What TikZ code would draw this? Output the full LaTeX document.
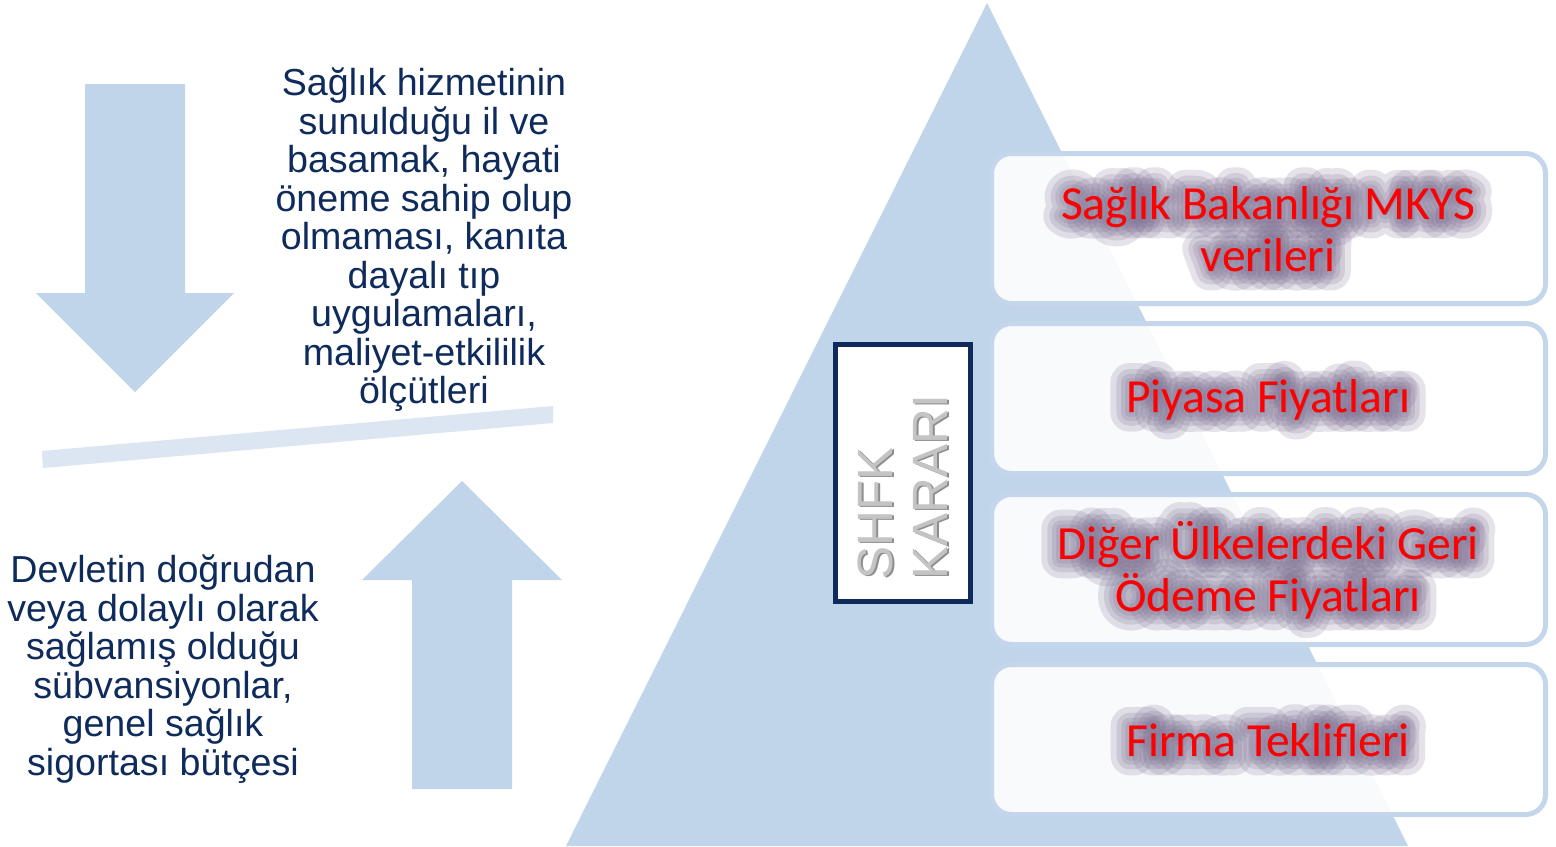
\documentclass[tikz,border=0pt]{standalone}
\usepackage{fontspec}
\setmainfont{Liberation Sans}
\newfontfamily\calfont{Carlito}
\newfontfamily\glowA[FakeBold=80]{Carlito}
\newfontfamily\glowB[FakeBold=55]{Carlito}
\newfontfamily\glowC[FakeBold=35]{Carlito}
\newfontfamily\glowD[FakeBold=18]{Carlito}
\usetikzlibrary{calc}
\definecolor{tri}{HTML}{C0D4EA}
\definecolor{barc}{HTML}{DCE6F2}
\definecolor{navy}{HTML}{0E2B5C}
\definecolor{glowc}{HTML}{7E7092}
\definecolor{boxline}{HTML}{C3D6EB}
\definecolor{shfklight}{HTML}{C4C4C4}
\definecolor{shfkdark}{HTML}{8E8E8E}
\tikzset{
  shapefill/.style={fill=tri},
  bluetext/.style={text=navy, align=center, font=\fontsize{18.8}{19.25}\selectfont, inner sep=0pt},
  rbox/.style={draw=boxline, line width=2.5pt, fill=white, fill opacity=0.9, rounded corners=10pt, minimum width=277pt, minimum height=75pt, inner sep=0pt},
  redtext/.style={text=red, align=center, font=\calfont\fontsize{23.75}{26}\selectfont, inner sep=0pt},
  glowbase/.style={align=center, inner sep=0pt, text=glowc, line join=round, line cap=round, opacity=0.2, text opacity=0.2},
  glowa/.style={glowbase, font=\glowA\fontsize{23.75}{26}\selectfont},
  glowb/.style={glowbase, font=\glowB\fontsize{23.75}{26}\selectfont},
  glowc/.style={glowbase, font=\glowC\fontsize{23.75}{26}\selectfont},
  glowd/.style={glowbase, font=\glowD\fontsize{23.75}{26}\selectfont},
  shfkbox/.style={draw=navy, line width=2.5pt, fill=white, minimum width=67.5pt, minimum height=128.5pt, inner sep=0pt},
  shfktext/.style={rotate=90, align=left, inner sep=0pt, font=\fontsize{24.8}{27.5}\selectfont},
}
\newcommand\glowlabel[3]{%
  \node[glowa] (#1-ga) at (#2) {#3};%
  \node[glowb] (#1-gb) at (#2) {#3};%
  \node[glowc] (#1-gc) at (#2) {#3};%
  \node[glowd] (#1-gd) at (#2) {#3};%
  \node[redtext] (#1) at (#2) {#3};}
\begin{document}
\begin{tikzpicture}[x=0.5pt,y=-0.5pt]
\useasboundingbox[fill=white] (0,0) rectangle (1556,846);
% pyramid
\fill[shapefill] (987,3) -- (1408,846) -- (566,846) -- cycle;
% arrows
\fill[shapefill] (85,84) -- (185,84) -- (185,293) -- (234,293) -- (135,392) -- (36,293) -- (85,293) -- cycle;
\fill[shapefill] (412,789) -- (512,789) -- (512,580) -- (562,580) -- (462,481) -- (362,580) -- (412,580) -- cycle;
% balance bar
\fill[barc] (42,451) -- (553,406) -- (553,423) -- (43,468) -- cycle;
% left texts
\node[bluetext] (top) at (424,240) {Sağlık hizmetinin\\sunulduğu il ve\\basamak, hayati\\öneme sahip olup\\olmaması, kanıta\\dayalı tıp\\uygulamaları,\\maliyet-etkililik\\ölçütleri};
\node[bluetext] (bottom) at (163,669) {Devletin doğrudan\\veya dolaylı olarak\\sağlamış olduğu\\sübvansiyonlar,\\genel sağlık\\sigortası bütçesi};
% SHFK box
\node[shfkbox] (shfk) at (903,473) {};
\node[shfktext, text=shfkdark] (shfkshadow) at (904.5,488.5) {SHFK\\KARARI};
\node[shfktext, text=shfklight] (shfklabel) at (903,487) {SHFK\\KARARI};
% boxes
\node[rbox] (b1) at (1268.5,228.5) {};
\node[rbox] (b2) at (1268.5,398.5) {};
\node[rbox] (b3) at (1268.5,569.5) {};
\node[rbox] (b4) at (1268.5,739.5) {};
\coordinate (c1) at (1268,229);
\coordinate (c2) at (1268,400);
\coordinate (c3) at (1268,570);
\coordinate (c4) at (1268,740);
\glowlabel{t1}{c1}{Sağlık Bakanlığı MKYS\\verileri}
\glowlabel{t2}{c2}{Piyasa Fiyatları}
\glowlabel{t3}{c3}{Diğer Ülkelerdeki Geri\\Ödeme Fiyatları}
\glowlabel{t4}{c4}{Firma Teklifleri}
\end{tikzpicture}
\end{document}
